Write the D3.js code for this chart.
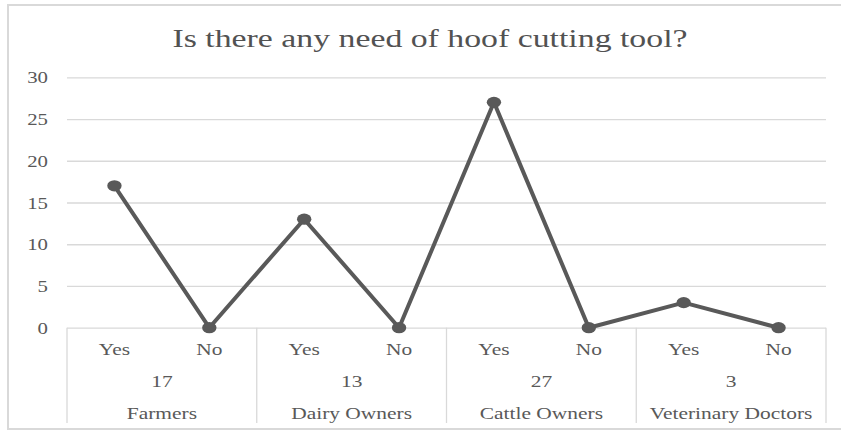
<!DOCTYPE html>
<html>
<head>
<meta charset="utf-8">
<script src="https://cdn.jsdelivr.net/npm/d3@7"></script>
<style>
  html, body { margin: 0; padding: 0; background: #fff; }
  svg { display: block; }
  text { font-family: "Liberation Serif", "Times New Roman", serif; fill: #595959; }
</style>
</head>
<body>
<svg id="chart" width="841" height="431"></svg>
<script>
// Survey answers per respondent group
const groups = ["Farmers", "Dairy Owners", "Cattle Owners", "Veterinary Doctors"];
const answers = ["Yes", "No"];
const yesCounts = [17, 13, 27, 3];
const noCounts = [0, 0, 0, 0];
const yTicks = [0, 5, 10, 15, 20, 25, 30];
const title = "Is there any need of hoof cutting tool?";

// Wide serif type, as in the original export
const STRETCH = 1.3;

const svg = d3.select("#chart");
const plot = { left: 67, right: 826, top: 77.3, bottom: 327.7 };

// Outer chart frame
svg.append("rect")
  .attr("x", 8).attr("y", 5)
  .attr("width", 860).attr("height", 424)
  .attr("fill", "#fff")
  .attr("stroke", "#d9d9d9")
  .attr("stroke-width", 2);

// Flattened category list (group, answer, value)
const points = [];
groups.forEach((g, i) => {
  points.push({ group: g, answer: answers[0], key: g + "|" + answers[0], value: yesCounts[i] });
  points.push({ group: g, answer: answers[1], key: g + "|" + answers[1], value: noCounts[i] });
});

const x = d3.scaleBand()
  .domain(points.map(d => d.key))
  .range([plot.left, plot.right])
  .padding(0);

const xGroup = d3.scaleBand()
  .domain(groups)
  .range([plot.left, plot.right])
  .padding(0);

const y = d3.scaleLinear()
  .domain([0, 30])
  .range([plot.bottom, plot.top]);

function wideText(sel, tx, ty, anchor) {
  return sel.attr("transform", `translate(${tx},${ty}) scale(${STRETCH},1)`)
    .attr("text-anchor", anchor);
}

// Title
wideText(svg.append("text").text(title), 430, 47, "middle")
  .attr("font-size", 26)
  .style("fill", "#525252");

// Y gridlines and tick labels
const yAxis = d3.axisLeft(y)
  .tickValues(yTicks)
  .tickSizeInner(-(plot.right - plot.left))
  .tickSizeOuter(0)
  .tickFormat(d3.format("d"));

const yg = svg.append("g")
  .attr("transform", `translate(${plot.left},0)`)
  .call(yAxis);
yg.select(".domain").remove();
yg.selectAll(".tick line")
  .attr("stroke", "#d9d9d9")
  .attr("stroke-width", 1.3);
yg.selectAll(".tick text")
  .attr("x", null).attr("dy", null)
  .attr("fill", "#595959")
  .attr("font-family", "Liberation Serif, Times New Roman, serif")
  .attr("font-size", 16)
  .attr("transform", `translate(-19,5.5) scale(${STRETCH},1)`)
  .attr("text-anchor", "end");

// Category axis: group separators spanning all label rows
const sepBottom = 423;
const seps = groups.map(g => xGroup(g)).concat([xGroup.range()[1]]);
svg.append("g").selectAll("line")
  .data(seps)
  .join("line")
  .attr("x1", d => d).attr("x2", d => d)
  .attr("y1", plot.bottom).attr("y2", sepBottom)
  .attr("stroke", "#d9d9d9")
  .attr("stroke-width", 1.3);

// Answer labels
const ansG = svg.append("g");
points.forEach(p => {
  wideText(ansG.append("text").text(p.answer), x(p.key) + x.bandwidth() / 2, 355, "middle")
    .attr("font-size", 16.5);
});

// Yes-count row and group names
const grpG = svg.append("g");
groups.forEach((g, i) => {
  const cx = xGroup(g) + xGroup.bandwidth() / 2;
  wideText(grpG.append("text").text(yesCounts[i]), cx, 387, "middle")
    .attr("font-size", 16.5);
  wideText(grpG.append("text").text(g), cx, 419, "middle")
    .attr("font-size", 16.5);
});

// Series line
const line = d3.line()
  .x(d => x(d.key) + x.bandwidth() / 2)
  .y(d => y(d.value));

svg.append("path")
  .datum(points)
  .attr("d", line)
  .attr("fill", "none")
  .attr("stroke", "#595959")
  .attr("stroke-width", 4)
  .attr("stroke-linejoin", "round");

// Markers
svg.append("g").selectAll("ellipse")
  .data(points)
  .join("ellipse")
  .attr("cx", d => x(d.key) + x.bandwidth() / 2)
  .attr("cy", d => y(d.value))
  .attr("rx", 7.2)
  .attr("ry", 5.6)
  .attr("fill", "#595959");
</script>
</body>
</html>
